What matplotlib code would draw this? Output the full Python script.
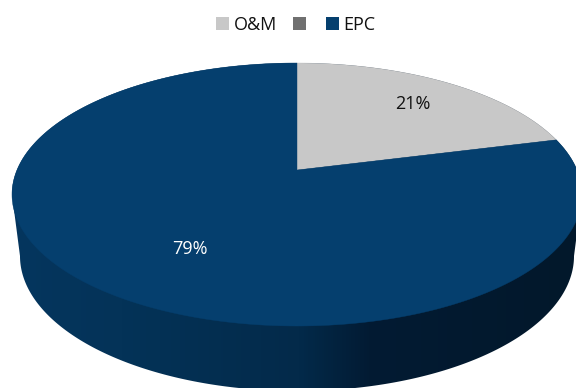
import numpy as np
import matplotlib
matplotlib.use("Agg")
import matplotlib.pyplot as plt
from matplotlib.patches import Patch, Polygon
from matplotlib.colors import LinearSegmentedColormap

plt.rcParams['font.family'] = ['Open Sans', 'DejaVu Sans']

# share of contract value
labels = ["O&M", "", "EPC"]
values = [21, 0, 79]
colors = ["#c8c8c8", "#707070", "#053f6e"]
text_colors = ["#111111", "#111111", "#ffffff"]

# where the percentages sit
label_x = [413, 0, 190]
label_y = [104, 0, 249]

# shading along the rim, left to right
rim_x = [0, 120, 300, 370, 576]
rim_colors = ["#05365f", "#043358", "#032a4a", "#021b33", "#02182b"]

# ellipses for the top face and the bottom of the rim
TOP = (297, 194.5, 285, 131.5)
BOTTOM = (297, 256, 277, 135)
TILT = 0.186  # perspective shift of the pie centre


def project(theta, r=1.0):
    # theta runs clockwise from 12 o'clock on a unit circle
    x = r * np.sin(theta)
    y = r * np.cos(theta)
    d = 1 + TILT * y
    px = x * np.sqrt(1 - TILT ** 2) / d
    py = (y + TILT) / d
    return TOP[0] + px * TOP[2], TOP[1] - py * TOP[3]


def ellipse_points(e, a0=0, a1=2 * np.pi, n=400):
    t = np.linspace(a0, a1, n)
    return np.column_stack([e[0] + e[2] * np.cos(t), e[1] + e[3] * np.sin(t)])


fig = plt.figure(figsize=(5.76, 3.88), dpi=100)
ax = fig.add_axes([0, 0, 1, 1])
ax.set_xlim(0, 576)
ax.set_ylim(388, 0)
ax.axis("off")

# rim: hull of the two ellipses, filled with a horizontal gradient
cmap = LinearSegmentedColormap.from_list(
    "rim", [(x / 576, c) for x, c in zip(rim_x, rim_colors)])
grad = ax.imshow(np.linspace(0, 1, 576).reshape(1, -1), cmap=cmap, aspect="auto",
                 extent=[0, 576, 388, 0], zorder=1)
lower = ellipse_points(BOTTOM, 0, np.pi)
upper = ellipse_points(TOP, np.pi, 2 * np.pi)
rim = Polygon(np.vstack([lower, upper]), closed=True, transform=ax.transData,
              facecolor="none", edgecolor="none")
ax.add_patch(rim)
grad.set_clip_path(rim)

# top face, one wedge per value
start = 0.0
total = sum(values)
for val, col in zip(values, colors):
    if val == 0:
        continue
    end = start + val / total * 2 * np.pi
    th = np.linspace(start, end, 300)
    px, py = project(th)
    cx, cy = project(np.array([0.0]), 0.0)
    ax.add_patch(Polygon(np.column_stack([np.r_[cx, px], np.r_[cy, py]]),
                         closed=True, facecolor=col, edgecolor=col,
                         linewidth=0.3, zorder=2))
    start = end

for val, x, y, c in zip(values, label_x, label_y, text_colors):
    if val:
        ax.text(x, y, f"{val}%", color=c, fontsize=13, ha="center", va="center", zorder=3)

handles = [Patch(facecolor=c, edgecolor="none", label=l) for c, l in zip(colors, labels)]
leg = fig.legend(handles=handles, loc="center", bbox_to_anchor=(0.514, 1 - 24.5 / 388), ncol=3,
                 frameon=False, fontsize=13, handlelength=0.72, handleheight=0.72,
                 handletextpad=0.28, columnspacing=0.83, labelcolor="#111111")

fig.savefig("out.png", dpi=100)
